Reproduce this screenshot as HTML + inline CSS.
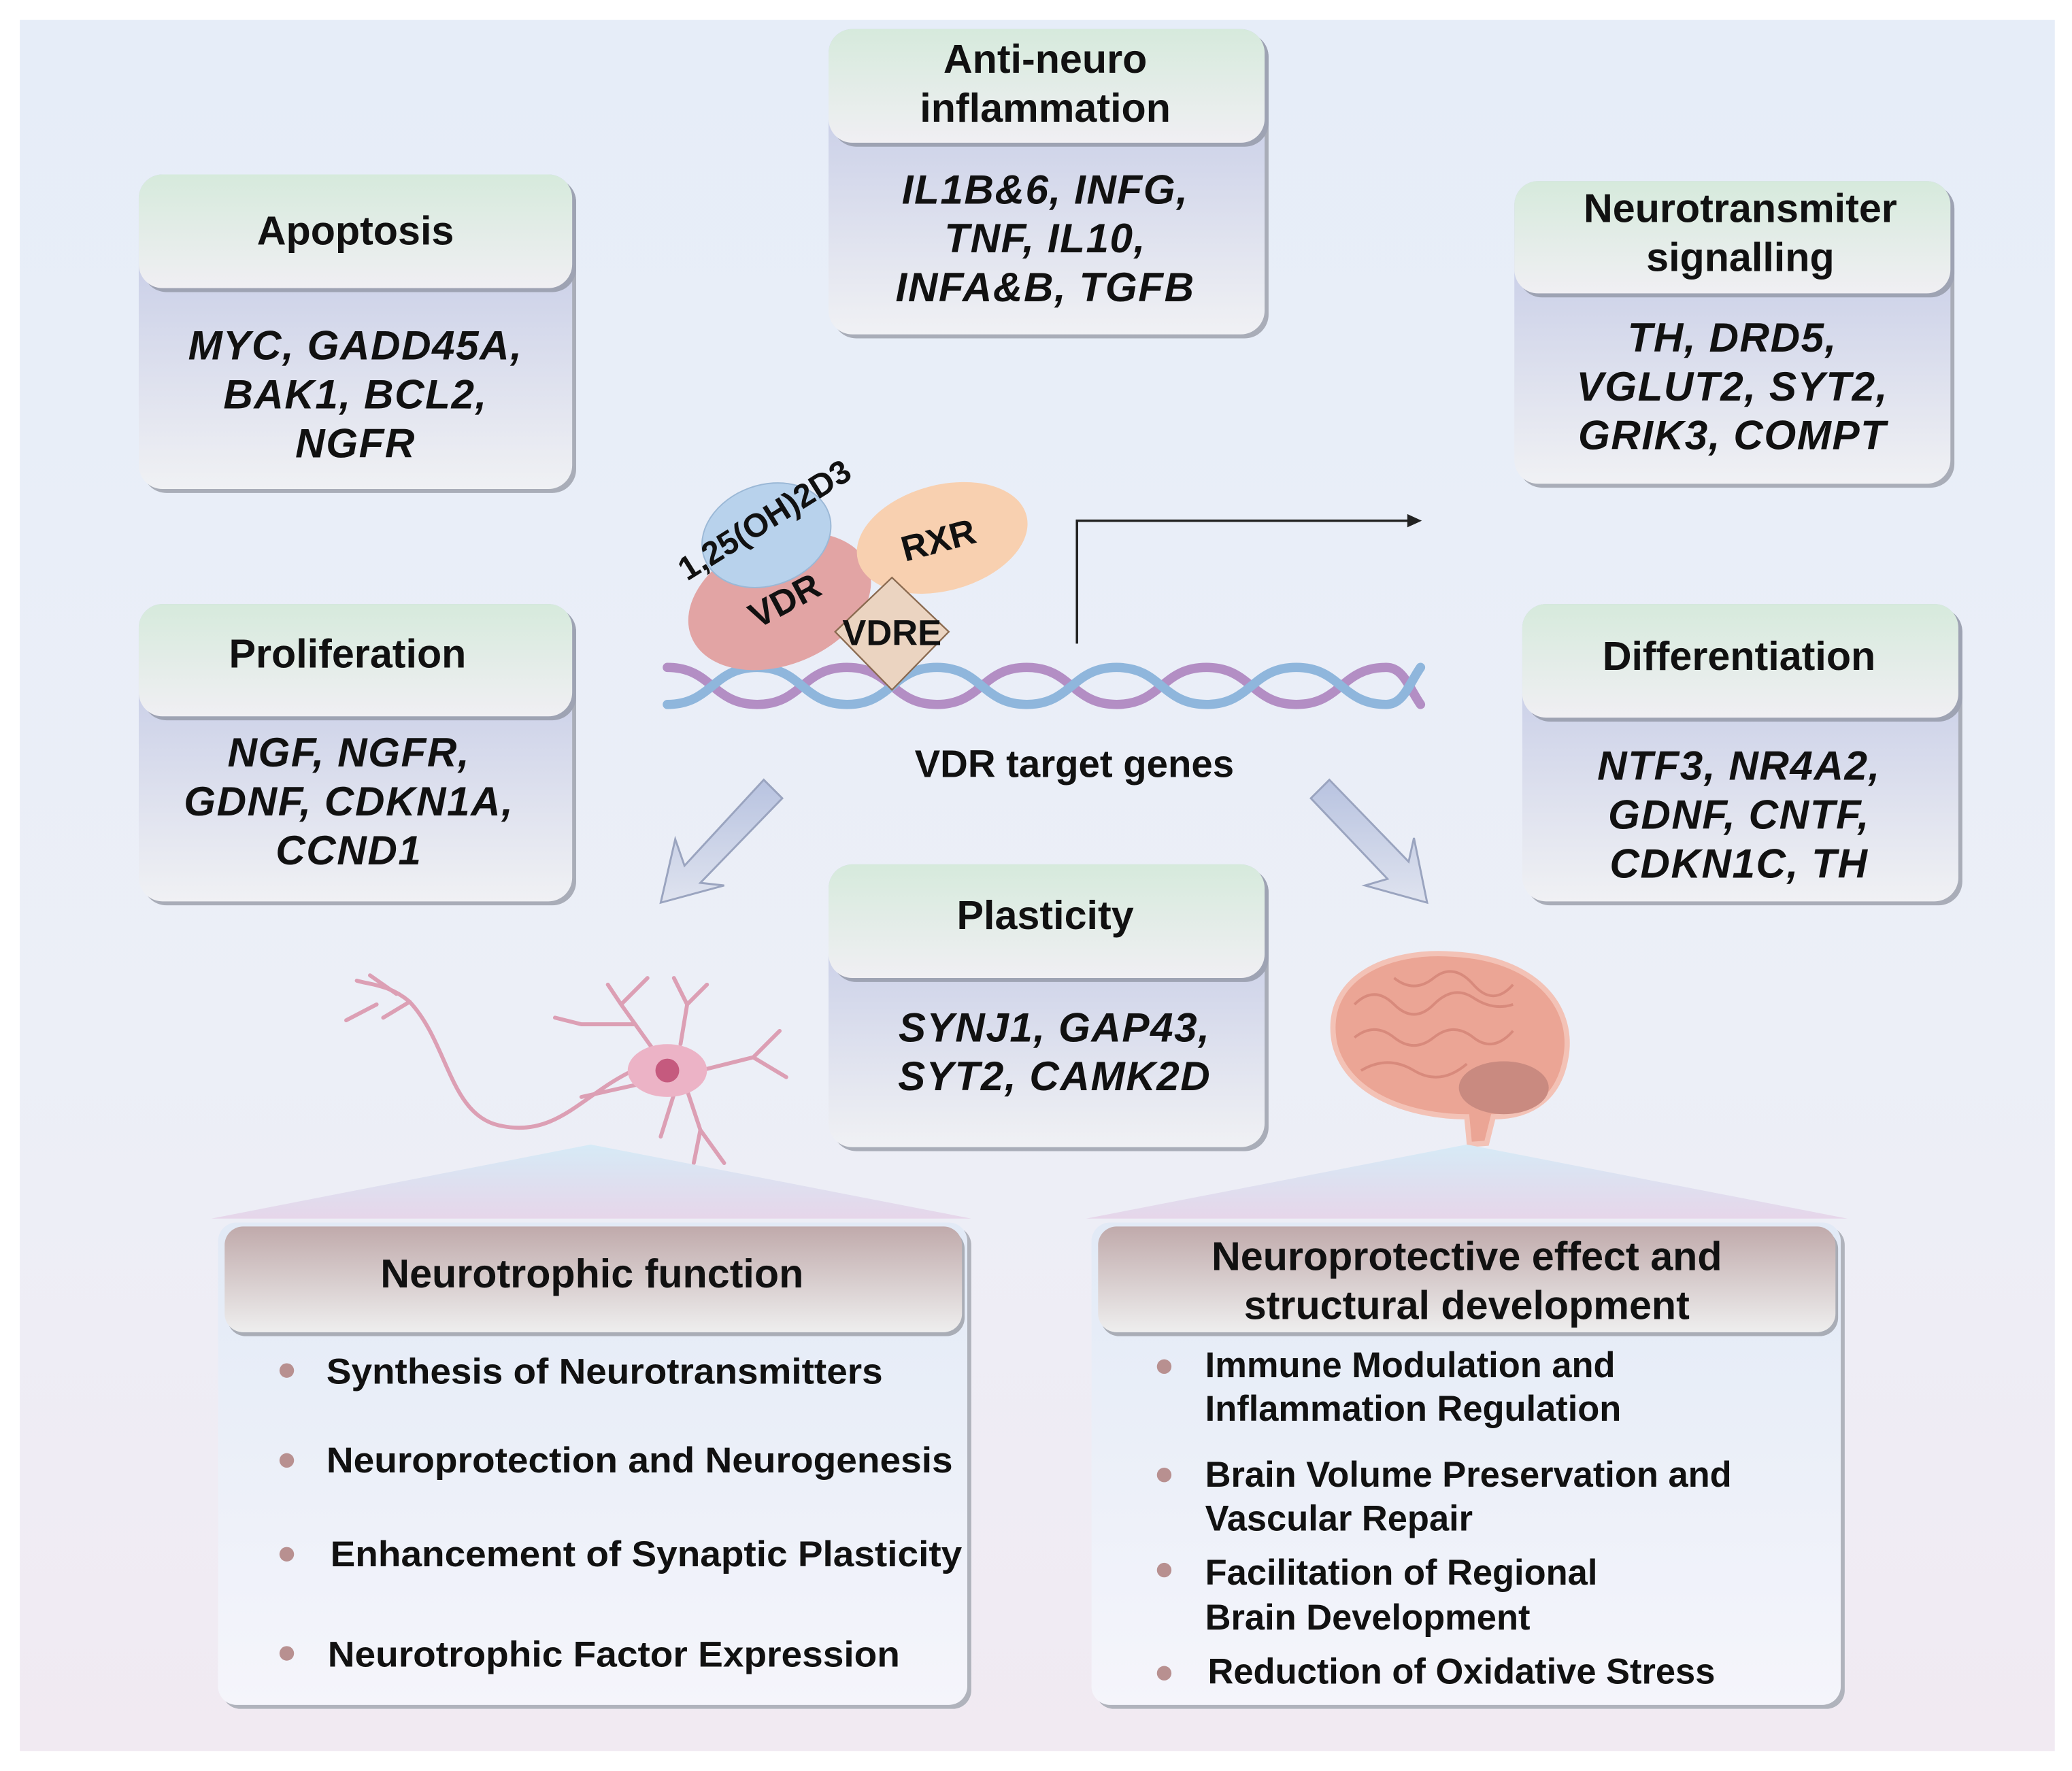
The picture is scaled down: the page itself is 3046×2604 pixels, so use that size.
<!DOCTYPE html>
<html><head><meta charset="utf-8"><style>
html,body{margin:0;padding:0;background:#fff}
svg{display:block}
text{font-family:"Liberation Sans",Arial,sans-serif;font-weight:bold;fill:#111}
.g{font-style:italic;font-size:31px;letter-spacing:0.8px}
.t{font-size:30.5px}
.b{font-size:27px}
</style></head><body>
<svg width="3046" height="2604" viewBox="0 0 1568 1340" preserveAspectRatio="none" xmlns="http://www.w3.org/2000/svg">
<defs>
<linearGradient id="bg" x1="0" y1="0" x2="0" y2="1"><stop offset="0" stop-color="#e6edf8"/><stop offset="0.6" stop-color="#eceff7"/><stop offset="1" stop-color="#f1eaf2"/></linearGradient>
<linearGradient id="hd" x1="0" y1="0" x2="0" y2="1"><stop offset="0" stop-color="#d6eadc"/><stop offset="1" stop-color="#f0eff3"/></linearGradient>
<linearGradient id="bd" x1="0" y1="0" x2="0" y2="1"><stop offset="0" stop-color="#bcc3e3"/><stop offset="1" stop-color="#f0f1f4"/></linearGradient>
<linearGradient id="bh" x1="0" y1="0" x2="0" y2="1"><stop offset="0" stop-color="#c0aaab"/><stop offset="1" stop-color="#eeeeee"/></linearGradient>
<linearGradient id="bb" x1="0" y1="0" x2="0" y2="1"><stop offset="0" stop-color="#e2eaf6"/><stop offset="1" stop-color="#f5f5fb"/></linearGradient>
<linearGradient id="tri" x1="0" y1="0" x2="0" y2="1"><stop offset="0" stop-color="#d6eaf6"/><stop offset="1" stop-color="#e6d6ea"/></linearGradient>
<linearGradient id="arr" x1="0" y1="0" x2="0" y2="1"><stop offset="0" stop-color="#b8c3e0"/><stop offset="1" stop-color="#dfe3ef"/></linearGradient>
</defs>
<rect x="0" y="0" width="1568" height="1340" fill="#fff"/>
<rect x="15" y="15" width="1540" height="1310" fill="url(#bg)"/>

<g>
<rect x="108" y="135" width="328" height="238" rx="18" fill="#a9adb8"/>
<rect x="105" y="132" width="328" height="238" rx="18" fill="url(#bd)"/>
<rect x="108" y="135" width="328" height="86" rx="18" fill="#9ea3b3"/>
<rect x="105" y="132" width="328" height="86" rx="18" fill="url(#hd)"/>
<text class="t" x="269" y="185" text-anchor="middle">Apoptosis</text>
<text class="g" x="269" y="272" text-anchor="middle">MYC, GADD45A,</text>
<text class="g" x="269" y="309" text-anchor="middle">BAK1, BCL2,</text>
<text class="g" x="269" y="346" text-anchor="middle">NGFR</text>
</g>
<g>
<rect x="630" y="25" width="330" height="231" rx="18" fill="#a9adb8"/>
<rect x="627" y="22" width="330" height="231" rx="18" fill="url(#bd)"/>
<rect x="630" y="25" width="330" height="86" rx="18" fill="#9ea3b3"/>
<rect x="627" y="22" width="330" height="86" rx="18" fill="url(#hd)"/>
<text class="t" x="791" y="55" text-anchor="middle">Anti-neuro</text>
<text class="t" x="791" y="92" text-anchor="middle">inflammation</text>
<text class="g" x="791" y="154" text-anchor="middle">IL1B&amp;6, INFG,</text>
<text class="g" x="791" y="191" text-anchor="middle">TNF, IL10,</text>
<text class="g" x="791" y="228" text-anchor="middle">INFA&amp;B, TGFB</text>
</g>
<g>
<rect x="1149" y="140" width="330" height="229" rx="18" fill="#a9adb8"/>
<rect x="1146" y="137" width="330" height="229" rx="18" fill="url(#bd)"/>
<rect x="1149" y="140" width="330" height="85" rx="18" fill="#9ea3b3"/>
<rect x="1146" y="137" width="330" height="85" rx="18" fill="url(#hd)"/>
<text class="t" x="1317" y="168" text-anchor="middle">Neurotransmiter</text>
<text class="t" x="1317" y="205" text-anchor="middle">signalling</text>
<text class="g" x="1311" y="266" text-anchor="middle">TH, DRD5,</text>
<text class="g" x="1311" y="303" text-anchor="middle">VGLUT2, SYT2,</text>
<text class="g" x="1311" y="340" text-anchor="middle">GRIK3, COMPT</text>
</g>
<g>
<rect x="108" y="460" width="328" height="225" rx="18" fill="#a9adb8"/>
<rect x="105" y="457" width="328" height="225" rx="18" fill="url(#bd)"/>
<rect x="108" y="460" width="328" height="85" rx="18" fill="#9ea3b3"/>
<rect x="105" y="457" width="328" height="85" rx="18" fill="url(#hd)"/>
<text class="t" x="263" y="505" text-anchor="middle">Proliferation</text>
<text class="g" x="264" y="580" text-anchor="middle">NGF, NGFR,</text>
<text class="g" x="264" y="617" text-anchor="middle">GDNF, CDKN1A,</text>
<text class="g" x="264" y="654" text-anchor="middle">CCND1</text>
</g>
<g>
<rect x="1155" y="460" width="330" height="225" rx="18" fill="#a9adb8"/>
<rect x="1152" y="457" width="330" height="225" rx="18" fill="url(#bd)"/>
<rect x="1155" y="460" width="330" height="86" rx="18" fill="#9ea3b3"/>
<rect x="1152" y="457" width="330" height="86" rx="18" fill="url(#hd)"/>
<text class="t" x="1316" y="507" text-anchor="middle">Differentiation</text>
<text class="g" x="1316" y="590" text-anchor="middle">NTF3, NR4A2,</text>
<text class="g" x="1316" y="627" text-anchor="middle">GDNF, CNTF,</text>
<text class="g" x="1316" y="664" text-anchor="middle">CDKN1C, TH</text>
</g>
<g>
<rect x="630" y="657" width="330" height="214" rx="18" fill="#a9adb8"/>
<rect x="627" y="654" width="330" height="214" rx="18" fill="url(#bd)"/>
<rect x="630" y="657" width="330" height="86" rx="18" fill="#9ea3b3"/>
<rect x="627" y="654" width="330" height="86" rx="18" fill="url(#hd)"/>
<text class="t" x="791" y="703" text-anchor="middle">Plasticity</text>
<text class="g" x="798" y="788" text-anchor="middle">SYNJ1, GAP43,</text>
<text class="g" x="798" y="825" text-anchor="middle">SYT2, CAMK2D</text>
</g>

<!-- DNA -->
<g fill="none" stroke-width="7" stroke-linecap="round">
<path d="M505,505 C539,505 539,533 573,533 C607,533 607,505 641,505 C675,505 675,533 709,533 C743,533 743,505 777,505 C811,505 811,533 845,533 C879,533 879,505 913,505 C947,505 947,533 981,533 C1015,533 1015,505 1049,505 C1062,505 1066,520 1075,533" stroke="#b38ec4"/>
<path d="M505,533 C539,533 539,505 573,505 C607,505 607,533 641,533 C675,533 675,505 709,505 C743,505 743,533 777,533 C811,533 811,505 845,505 C879,505 879,533 913,533 C947,533 947,505 981,505 C1015,505 1015,533 1049,533 C1062,533 1066,518 1075,505" stroke="#8fb6dc"/>
</g>

<ellipse cx="590" cy="455" rx="72" ry="48" transform="rotate(-22 590 455)" fill="#e2a4a4"/>
<ellipse cx="580" cy="405" rx="50" ry="38" transform="rotate(-20 580 405)" fill="#b8d2ec" stroke="#9bb8d6"/>
<ellipse cx="713" cy="407" rx="66" ry="40" transform="rotate(-15 713 407)" fill="#f8d0b0"/>
<polygon points="675,437 718,478 675,522 632,478" fill="#ebd4c1" stroke="#8a6a50" stroke-width="1.2"/>
<text x="0" y="0" font-size="25" transform="translate(520,440) rotate(-32)">1,25(OH)2D3</text>
<text x="0" y="0" font-size="27" transform="translate(573,476) rotate(-28)">VDR</text>
<text x="0" y="0" font-size="27" transform="translate(685,425) rotate(-15)">RXR</text>
<text x="675" y="488" font-size="27" text-anchor="middle">VDRE</text>

<path d="M815,487 V394 H1068" fill="none" stroke="#222" stroke-width="1.8"/>
<polygon points="1076,394 1065,389 1065,399" fill="#222"/>
<text x="813" y="588" font-size="29" text-anchor="middle">VDR target genes</text>

<polygon points="578,590 592,604 530,668 548,670 500,683 511,635 518,655" fill="url(#arr)" stroke="#9aa4bf" stroke-width="1.5"/>
<polygon points="992,604 1006,590 1066,652 1070,634 1080,683 1033,670 1050,665" fill="url(#arr)" stroke="#9aa4bf" stroke-width="1.5"/>

<g fill="none" stroke="#dc9fb4" stroke-width="3" stroke-linecap="round">
<path d="M475,812 C440,830 420,860 380,852 C340,845 340,790 310,758 C295,745 280,745 270,742"/>
<path d="M310,758 L290,770 M300,752 L280,738 M285,760 L262,772"/>
<path d="M495,795 L470,760 L460,745 M470,760 L490,740 M480,775 L440,775 L420,770"/>
<path d="M515,790 L520,760 L510,740 M520,760 L535,745"/>
<path d="M530,810 L570,800 L590,780 M570,800 L595,815"/>
<path d="M520,825 L530,855 L525,880 M530,855 L548,880 M510,828 L500,860"/>
<path d="M485,820 L440,830"/>
</g>
<ellipse cx="505" cy="810" rx="30" ry="20" fill="#ecb3c6"/>
<circle cx="505" cy="810" r="9" fill="#c55a7e"/>

<path d="M1010,790 C1000,740 1050,718 1100,722 C1160,725 1192,760 1185,800 C1180,830 1160,845 1130,845 L1125,865 L1112,866 L1110,845 C1070,845 1020,830 1010,790 Z" fill="#eba595" stroke="#f3c2b6" stroke-width="4"/>
<ellipse cx="1138" cy="823" rx="34" ry="20" fill="#c98a80"/>
<g fill="none" stroke="#d88a7c" stroke-width="2"><path d="M1025,760 q15,-15 30,0 t30,0 t30,-5 t30,5"/><path d="M1025,785 q15,-12 30,0 t30,0 t30,0 t30,-5"/><path d="M1030,810 q20,-12 40,0 t40,-5"/><path d="M1055,740 q15,12 30,0 t30,5 t30,0"/></g>

<polygon points="160,922 447,866 735,922" fill="url(#tri)"/>
<polygon points="822,922 1110,866 1398,922" fill="url(#tri)"/>

<rect x="168" y="928" width="567" height="365" rx="14" fill="#b0b3bc"/>
<rect x="165" y="925" width="567" height="365" rx="14" fill="url(#bb)"/>
<rect x="172" y="931" width="558" height="80" rx="14" fill="#a9adb6"/>
<rect x="170" y="928" width="558" height="80" rx="14" fill="url(#bh)"/>
<text class="t" x="448" y="974" text-anchor="middle">Neurotrophic function</text>
<g fill="#b89090"><circle cx="217" cy="1037" r="5.5"/><circle cx="217" cy="1105" r="5.5"/><circle cx="217" cy="1176" r="5.5"/><circle cx="217" cy="1251" r="5.5"/></g>
<text class="b" x="247" y="1047" textLength="421" lengthAdjust="spacingAndGlyphs">Synthesis of Neurotransmitters</text>
<text class="b" x="247" y="1114" textLength="474" lengthAdjust="spacingAndGlyphs">Neuroprotection and Neurogenesis</text>
<text class="b" x="250" y="1185" textLength="478" lengthAdjust="spacingAndGlyphs">Enhancement of Synaptic Plasticity</text>
<text class="b" x="248" y="1261" textLength="433" lengthAdjust="spacingAndGlyphs">Neurotrophic Factor Expression</text>

<rect x="829" y="928" width="567" height="365" rx="14" fill="#b0b3bc"/>
<rect x="826" y="925" width="567" height="365" rx="14" fill="url(#bb)"/>
<rect x="833" y="931" width="558" height="80" rx="14" fill="#a9adb6"/>
<rect x="831" y="928" width="558" height="80" rx="14" fill="url(#bh)"/>
<text class="t" x="1110" y="961" text-anchor="middle">Neuroprotective effect and</text>
<text class="t" x="1110" y="998" text-anchor="middle">structural development</text>
<g fill="#b89090"><circle cx="881" cy="1034" r="5.5"/><circle cx="881" cy="1116" r="5.5"/><circle cx="881" cy="1188" r="5.5"/><circle cx="881" cy="1266" r="5.5"/></g>
<text class="b" x="912" y="1042">Immune Modulation and</text>
<text class="b" x="912" y="1075">Inflammation Regulation</text>
<text class="b" x="912" y="1125">Brain Volume Preservation and</text>
<text class="b" x="912" y="1158">Vascular Repair</text>
<text class="b" x="912" y="1199">Facilitation of Regional</text>
<text class="b" x="912" y="1233">Brain Development</text>
<text class="b" x="914" y="1274">Reduction of Oxidative Stress</text>
</svg>
</body></html>
